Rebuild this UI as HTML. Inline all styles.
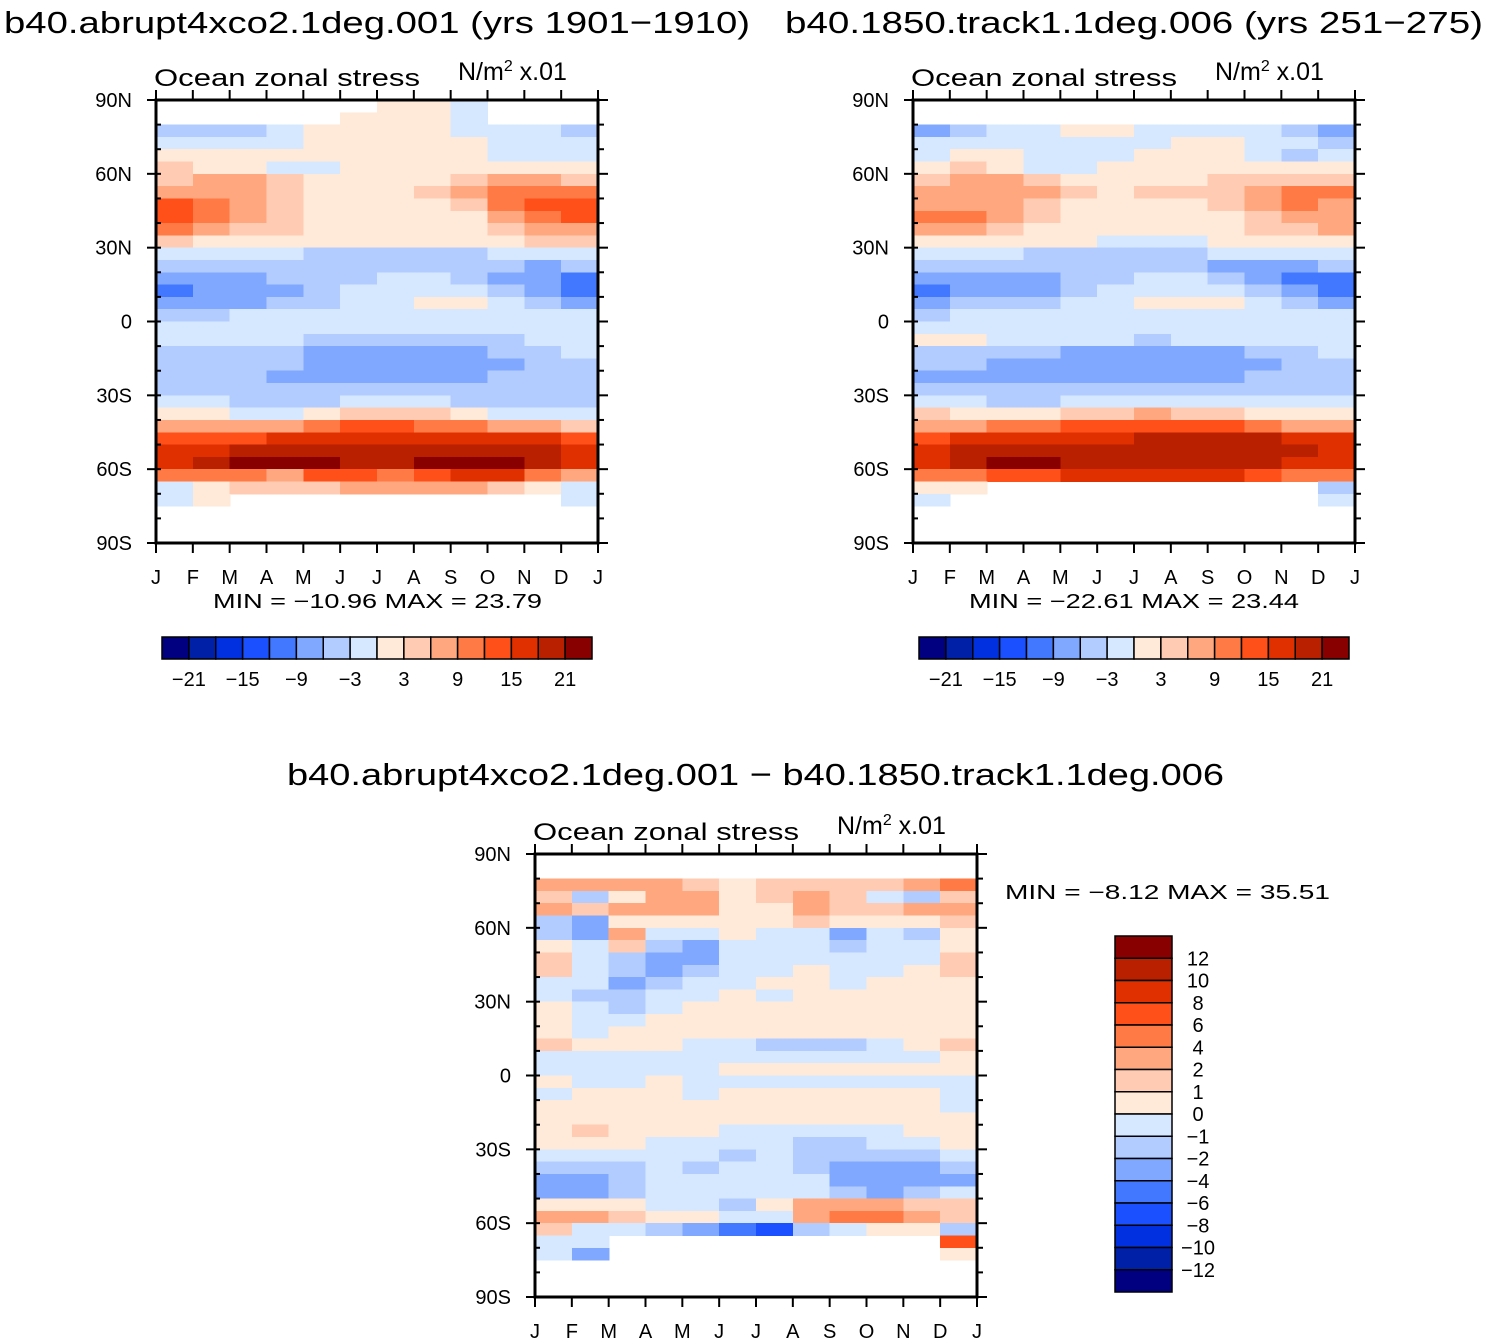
<!DOCTYPE html>
<html><head><meta charset="utf-8"><style>
html,body{margin:0;padding:0;background:#fff}
svg{display:block}
text{font-family:"Liberation Sans",sans-serif;fill:#000}
</style></head><body>
<svg id="fig" width="1487" height="1344" viewBox="0 0 1487 1344" xmlns="http://www.w3.org/2000/svg">
<text x="4" y="33" font-size="31" textLength="746" lengthAdjust="spacingAndGlyphs">b40.abrupt4xco2.1deg.001 (yrs 1901−1910)</text>
<text x="785" y="33" font-size="31" textLength="698" lengthAdjust="spacingAndGlyphs">b40.1850.track1.1deg.006 (yrs 251−275)</text>
<text x="287" y="785" font-size="31" textLength="937" lengthAdjust="spacingAndGlyphs">b40.abrupt4xco2.1deg.001 − b40.1850.track1.1deg.006</text>
<g id="p1"></g>
<g id="p2"></g>
<g id="p3"></g>
</svg>
<script>
const months = ['J','F','M','A','M','J','J','A','S','O','N','D','J'];
const latTicks = ['90N','60N','30N','0','30S','60S','90S'];
const palette = ['#000080','#0020a8','#0030e0','#1a50ff','#4278ff','#80a8ff','#b3ccff','#d6e8ff','#ffead9','#ffccb3','#ffa880','#ff7a45','#ff5019','#e03000','#b82000','#880000'];
const levelsTop = [-21,-18,-15,-12,-9,-6,-3,0,3,6,9,12,15,18,21];
const levelsDiff = [-12,-10,-8,-6,-4,-2,-1,0,1,2,4,6,8,10,12];
const labelsTop = ['−21','−15','−9','−3','3','9','15','21'];
const labelsDiff = ['12','10','8','6','4','2','1','0','−1','−2','−4','−6','−8','−10','−12'];
const n = null;
const N12 = [n,n,n,n,n,n,n,n,n,n,n,n];
// rows: 5-degree bands 90N->90S (centres 87.5 ... -87.5), columns Jan..Dec
const dataA = [
 [n,n,n,n,n,n,1,1,-1,n,n,n],
 [n,n,n,n,n,1,1,1,-1,n,n,n],
 [-4,-4,-4,-2,1,1,1,1,-1,-2,-2,-4],
 [-2,-2,-2,-1,1,1,1,1,1,-1,-1,-1],
 [1,1,1,1,1,1,1,1,1,-1,-1,-1],
 [4,2,1,-1,-1,1,1,1,1,1,1,2],
 [5,8,8,5,2,1,1,2,4,8,7,5],
 [8,8,8,5,2,1,1,4,7,10,11,10],
 [13,10,8,5,2,1,1,2,4,10,13,14],
 [14,11,7,4,1,1,1,1,2,7,10,13],
 [10,8,5,4,1,1,1,1,2,4,7,8],
 [4,2,1,1,1,1,1,1,1,2,4,5],
 [-2,-2,-2,-2,-4,-4,-4,-4,-4,-2,-2,-2],
 [-5,-5,-5,-4,-4,-4,-4,-4,-4,-5,-7,-5],
 [-8,-7,-7,-4,-4,-4,-2,-2,-4,-7,-8,-10],
 [-10,-8,-7,-7,-4,-2,-2,-1,-1,-5,-8,-11],
 [-7,-7,-7,-5,-4,-2,-1,1,1,-2,-5,-7],
 [-4,-4,-2,-2,-2,-2,-1,-1,-2,-2,-2,-2],
 [-2,-2,-2,-2,-2,-2,-2,-2,-2,-2,-2,-2],
 [-2,-2,-2,-2,-4,-4,-4,-4,-4,-4,-2,-2],
 [-4,-4,-4,-4,-7,-7,-7,-7,-7,-5,-4,-2],
 [-4,-4,-4,-5,-7,-7,-7,-7,-7,-7,-5,-4],
 [-4,-4,-4,-7,-7,-7,-7,-7,-7,-5,-4,-4],
 [-4,-4,-4,-4,-4,-4,-4,-4,-4,-4,-4,-4],
 [-2,-2,-4,-4,-4,-2,-2,-2,-4,-4,-4,-4],
 [2,2,-1,-1,1,4,5,4,1,-1,-1,-1],
 [7,7,7,8,10,13,13,11,10,8,7,5],
 [14,14,14,16,16,17,17,17,17,16,16,14],
 [16,17,19,20,20,20,19,20,20,20,19,16],
 [16,19,22,22,22,20,19,22,22,22,20,16],
 [10,10,10,7,13,13,11,14,17,16,11,8],
 [-1,2,4,4,4,7,7,7,7,4,2,-1],
 [-1,1,n,n,n,n,n,n,n,n,n,-1],
 N12, N12, N12
];
const dataB = [
 N12, N12,
 [-7,-4,-2,-1,1,1,-1,-1,-1,-1,-4,-8],
 [-2,-1,-1,-1,-1,-1,-1,1,1,-1,-1,-4],
 [-1,1,1,-1,-1,-1,1,1,1,-1,-4,-2],
 [2,4,2,-1,-1,1,1,1,1,1,1,1],
 [5,7,7,5,2,1,2,2,5,5,5,4],
 [7,7,7,7,4,1,4,4,5,8,11,10],
 [8,7,7,5,2,1,2,2,4,8,10,8],
 [10,10,7,4,1,1,1,2,2,5,7,8],
 [8,7,5,2,1,1,1,1,1,4,5,7],
 [2,2,1,1,1,-1,-1,-1,1,1,2,2],
 [-2,-2,-2,-4,-4,-4,-4,-4,-2,-2,-2,-2],
 [-4,-4,-4,-4,-4,-4,-4,-4,-7,-7,-7,-4],
 [-7,-7,-7,-7,-4,-4,-2,-2,-4,-7,-10,-10],
 [-10,-7,-7,-7,-4,-2,-2,-1,-1,-4,-7,-11],
 [-7,-5,-4,-4,-2,-1,1,1,1,-2,-5,-7],
 [-4,-2,-2,-2,-2,-2,-2,-2,-2,-2,-2,-2],
 [-2,-2,-2,-2,-2,-2,-2,-2,-2,-2,-2,-2],
 [1,1,-2,-2,-2,-2,-4,-2,-2,-2,-2,-2],
 [-4,-4,-4,-4,-7,-7,-8,-7,-7,-4,-4,-2],
 [-4,-4,-7,-7,-7,-7,-7,-7,-7,-7,-5,-4],
 [-7,-7,-7,-7,-7,-7,-7,-7,-7,-5,-4,-4],
 [-4,-4,-4,-4,-4,-4,-4,-4,-4,-4,-4,-4],
 [-2,-2,-4,-4,-2,-2,-2,-2,-2,-2,-2,-2],
 [4,2,2,2,4,5,7,5,4,2,2,1],
 [8,8,10,10,13,13,13,13,13,10,8,8],
 [14,16,16,16,17,17,18,19,19,18,17,16],
 [16,19,20,20,19,19,19,19,19,19,18,16],
 [16,19,22,22,20,19,19,19,19,19,16,16],
 [10,11,14,14,16,16,16,16,16,13,11,10],
 [1,2,n,n,n,n,n,n,n,n,n,-5],
 [-1,n,n,n,n,n,n,n,n,n,n,-2],
 N12, N12, N12
];
const dataD = [
 N12, N12,
 [3,3,3,3,1.5,0.5,1.5,1.5,1.5,1.5,3,5],
 [1.5,-2,0.5,3,3,0.5,1.5,3,1.5,-1,-2,1.5],
 [3,1.5,3,3,3,0.5,0.5,3,1.5,1.5,3,3],
 [-2,-3,0.5,0.5,0.5,0.5,0.5,1.5,0.5,0.5,0.5,1.5],
 [-2,-3,3,-1,-1,0.5,-1,-1,-3,-1,-2,0.5],
 [0.5,-1,1.5,-2,-3,-1,-1,-1,-2,-1,-1,0.5],
 [1.5,-1,-2,-3,-3,-1,-1,-1,-1,-1,-1,1.5],
 [1.5,-1,-2,-3,-2,-1,-1,0.5,-1,-1,0.5,1.5],
 [-1,-1,-3,-2,-1,-1,0.5,0.5,-1,0.5,0.5,0.5],
 [-1,-2,-2,-1,-1,0.5,-1,0.5,0.5,0.5,0.5,0.5],
 [0.5,-1,-2,-1,0.5,0.5,0.5,0.5,0.5,0.5,0.5,0.5],
 [0.5,-1,-1,0.5,0.5,0.5,0.5,0.5,0.5,0.5,0.5,0.5],
 [0.5,-1,0.5,0.5,0.5,0.5,0.5,0.5,0.5,0.5,0.5,0.5],
 [1.5,0.5,0.5,0.5,-1,-1,-2,-2,-2,-1,0.5,1.5],
 [-1,-1,-1,-1,-1,-1,-1,-1,-1,-1,-1,0.5],
 [-1,-1,-1,-1,-1,0.5,0.5,0.5,0.5,0.5,0.5,0.5],
 [0.5,-1,-1,0.5,-1,-1,-1,-1,-1,-1,-1,-1],
 [-1,0.5,0.5,0.5,-1,0.5,0.5,0.5,0.5,0.5,0.5,-1],
 [0.5,0.5,0.5,0.5,0.5,0.5,0.5,0.5,0.5,0.5,0.5,-1],
 [0.5,0.5,0.5,0.5,0.5,0.5,0.5,0.5,0.5,0.5,0.5,0.5],
 [0.5,1.5,0.5,0.5,0.5,-1,-1,-1,-1,-1,0.5,0.5],
 [0.5,0.5,0.5,-1,-1,-1,-1,-2,-2,-1,-1,0.5],
 [-1,-1,-1,-1,-1,-2,-1,-2,-2,-2,-2,-1],
 [-2,-2,-2,-1,-2,-1,-1,-2,-3,-3,-3,-2],
 [-3,-3,-2,-1,-1,-1,-1,-1,-3,-3,-3,-3],
 [-3,-3,-2,-1,-1,-1,-1,-1,-2,-3,-2,-1],
 [0.5,0.5,0.5,-1,-1,-2,0.5,3,3,3,1.5,1.5],
 [3,3,1.5,0.5,0.5,-1,-1,3,5,5,3,1.5],
 [1.5,-1,-1,-2,-3,-5,-7,-2,-1,0.5,0.5,-2],
 [-1,-1,n,n,n,n,n,n,n,n,n,7],
 [-1,-3,n,n,n,n,n,n,n,n,n,0.5],
 N12, N12, N12
];
const NS = 'http://www.w3.org/2000/svg';
function mk(parent, tag, attrs){
  const e = document.createElementNS(NS, tag);
  for (const k in attrs) e.setAttribute(k, attrs[k]);
  parent.appendChild(e);
  return e;
}
function colorFor(v, levels){
  let i = 0;
  while (i < levels.length && v >= levels[i]) i++;
  return palette[i];
}
function drawPanel(g, data, levels, x0, y0, w, h){
  const xS = m => x0 + m * w / 12;
  const yS = lat => y0 + (90 - lat) * h / 180;
  for (let r = 0; r < data.length; r++) {
    const latTop = 90 - r * 5;
    for (let c = 0; c < 12; c++) {
      const v = data[r][c];
      if (v === null) continue;
      const cell = mk(g, 'rect', {x: xS(c), y: yS(latTop), width: w/12 + 0.6, height: h/36 + 0.6, fill: colorFor(v, levels), 'shape-rendering': 'crispEdges'});
      
      
    }
  }
  const box = mk(g, 'rect', {x: x0, y: y0, width: w, height: h, fill: 'none', stroke: '#000', 'stroke-width': 3});
  
  
  for (let lat = 90; lat >= -90; lat -= 10) {
    const y = yS(lat);
    const major = lat % 30 === 0;
    mk(g, 'line', {x1: x0 - (major ? 9 : 0), x2: x0 + 5, y1: y, y2: y, stroke: '#000', 'stroke-width': 2});
    mk(g, 'line', {x1: x0 + w, x2: x0 + w + (major ? 10 : 6), y1: y, y2: y, stroke: '#000', 'stroke-width': 2});
  }
  latTicks.forEach((t, i) => {
    const tx = mk(g, 'text', {x: x0 - 24, y: yS(90 - i * 30) + 7, 'font-size': 20, 'text-anchor': 'end'});
    tx.textContent = t;
    
    
  });
  months.forEach((t, i) => {
    const x = xS(i);
    mk(g, 'line', {x1: x, x2: x, y1: y0 + h, y2: y0 + h + 10, stroke: '#000', 'stroke-width': 2});
    mk(g, 'line', {x1: x, x2: x, y1: y0 - 10, y2: y0, stroke: '#000', 'stroke-width': 2});
    const tx = mk(g, 'text', {x: x, y: y0 + h + 41, 'font-size': 20, 'text-anchor': 'middle'});
    tx.textContent = t;
    
    
  });
  const lt = mk(g, 'text', {x: x0 - 2, y: y0 - 14, 'font-size': 24, textLength: 266, lengthAdjust: 'spacingAndGlyphs'});
  lt.textContent = 'Ocean zonal stress';
  
  
  const rt = mk(g, 'text', {x: x0 + 302, y: y0 - 20, 'font-size': 25});
  rt.innerHTML = 'N/m<tspan font-size="16" dy="-9">2</tspan><tspan dy="9">  x.01</tspan>';
  
  
}
function hBar(g, x0, y0, w, h){
  const bw = w / palette.length;
  palette.forEach((col, i) => {
    const b = mk(g, 'rect', {x: x0 + i * bw, y: y0, width: bw, height: h, fill: col, stroke: '#000', 'stroke-width': 1.5});
    
    
  });
  labelsTop.forEach((t, k) => {
    const tx = mk(g, 'text', {x: x0 + (1 + 2 * k) * bw, y: y0 + h + 27, 'font-size': 20, 'text-anchor': 'middle'});
    tx.textContent = t;
    
    
  });
}
function minmaxText(g, x, y, str, len){
  const tx = mk(g, 'text', {x: x, y: y, 'font-size': 20, textLength: len, lengthAdjust: 'spacingAndGlyphs'});
  tx.textContent = str;
  
  
}
const p1 = document.getElementById('p1'), p2 = document.getElementById('p2'), p3 = document.getElementById('p3');
drawPanel(p1, dataA, levelsTop, 156, 100, 442, 443);
minmaxText(p1, 213, 608, 'MIN = −10.96 MAX =  23.79', 329);
hBar(p1, 162, 637, 430, 22);
drawPanel(p2, dataB, levelsTop, 913, 100, 442, 443);
minmaxText(p2, 969, 608, 'MIN = −22.61 MAX =  23.44', 330);
hBar(p2, 919, 637, 430, 22);
drawPanel(p3, dataD, levelsDiff, 535, 854, 442, 443);
minmaxText(p3, 1005, 899, 'MIN =  −8.12 MAX =  35.51', 325);
(function(){
  const x0 = 1115, y0 = 936, w = 57, h = 356, bh = h / palette.length;
  for (let i = 0; i < palette.length; i++) {
    const b = mk(p3, 'rect', {x: x0, y: y0 + i * bh, width: w, height: bh, fill: palette[palette.length - 1 - i], stroke: '#000', 'stroke-width': 1.5});
    
    
  }
  labelsDiff.forEach((t, k) => {
    const tx = mk(p3, 'text', {x: 1198, y: y0 + (k + 1) * bh + 7, 'font-size': 20, 'text-anchor': 'middle'});
    tx.textContent = t;
    
    
  });
})();
</script>
</body></html>
